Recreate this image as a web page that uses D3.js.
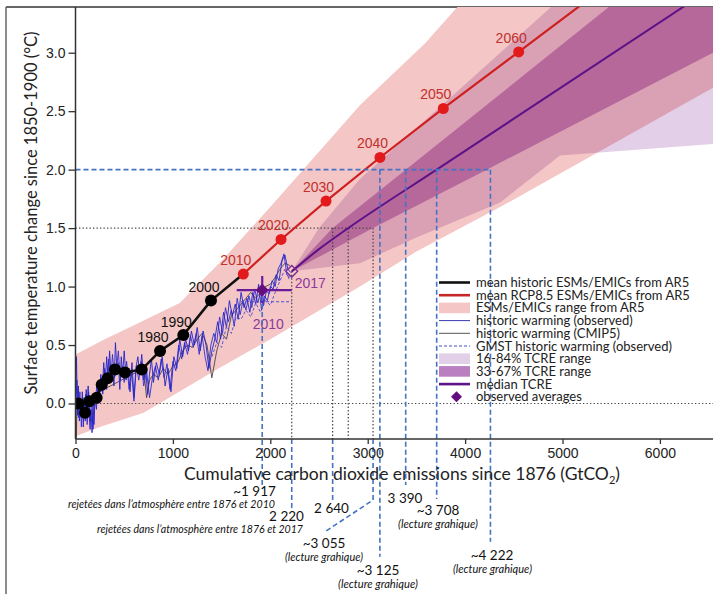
<!DOCTYPE html>
<html><head><meta charset="utf-8">
<script src="https://cdnjs.cloudflare.com/ajax/libs/d3/7.8.5/d3.min.js"></script>
<style>
html,body{margin:0;padding:0;background:#fff;}
svg{display:block;}
</style></head>
<body>
<svg id="chart" width="713" height="594"></svg>
<script>
// ---------------- DATA ----------------
const xTicks = [0,1000,2000,3000,4000,5000,6000];
const yTicks = [0.0,0.5,1.0,1.5,2.0,2.5,3.0];

// mean historic ESMs/EMICs (decade points)
const histYears = [1890,1900,1910,1920,1930,1940,1950,1960,1970,1980,1990,2000,2010];
const histX = [30,98,142,217,269,330,405,508,680,868,1107,1391,1723];
const histY = [0.0,-0.08,0.02,0.05,0.16,0.215,0.29,0.265,0.29,0.45,0.585,0.88,1.107];
const histLabelled = [1980,1990,2000];

// mean RCP8.5
const rcpYears = [2010,2020,2030,2040,2050,2060,2070];
const rcpX = [1723,2110,2572,3126,3776,4550,5400];
const rcpY = [1.107,1.403,1.731,2.104,2.523,3.007,3.54];

// ESMs/EMICs range from AR5
const ar5UpperX = [0,300,600,1070,1500,2000,2920,3590,3930,4600,6545];
const ar5UpperY = [0.42,0.55,0.67,0.86,1.22,1.68,2.55,3.08,3.40,3.95,5.0];
const ar5LowerX = [0,250,700,1450,2000,2920,3500,4359,6545];
const ar5LowerY = [-0.28,-0.2,-0.08,0.29,0.55,1.0,1.3,1.68,2.70];

// TCRE ranges
const tcre1684UpperX = [2220,2500,2920,4882,6545];
const tcre1684UpperY = [1.13,1.5,1.92,3.39,4.6];
const tcre1684LowerX = [2220,2920,3500,4359,4974,6545];
const tcre1684LowerY = [1.13,1.2,1.42,1.72,2.12,2.22];
const tcre3367UpperX = [2220,2640,3390,5475,6545];
const tcre3367UpperY = [1.13,1.5,2.0,3.39,4.1];
const tcre3367LowerX = [2220,3055,4222,6545];
const tcre3367LowerY = [1.13,1.5,2.0,3.0];
const medianX = [2220,2500,2800,3708,6545];
const medianY = [1.13,1.32,1.5,2.0,3.56];

// historic warming (observed)
const obsX = [0,10,20,30,40,50,60,70,80,90,100,110,120,130,140,150,160,170,180,190,200,215,230,245,260,275,290,305,320,335,350,365,380,395,410,425,440,455,470,485,500,520,540,560,580,600,620,640,660,680,700,720,740,760,780,800,830,860,890,920,950,980,1010,1040,1070,1100,1130,1160,1190,1220,1250,1280,1310,1340,1370,1400,1430,1460,1490,1520,1550,1580,1610,1640,1670,1700,1730,1760,1790,1820,1850,1880,1910,1940,1970,2000,2030,2060,2090,2120,2150,2180,2210];
const obsY = [0.05,0.40,-0.10,0.15,-0.15,0.0,-0.12,0.10,-0.20,0.05,-0.15,0.12,-0.05,0.15,-0.10,-0.22,-0.05,-0.25,0.0,-0.18,0.05,-0.05,0.18,0.05,0.25,0.10,0.35,0.15,0.40,0.20,0.45,0.25,0.30,0.15,0.52,0.30,0.35,0.12,0.40,0.25,0.45,0.20,0.30,0.10,0.35,0.05,0.30,0.40,0.25,0.42,0.20,0.30,0.08,0.25,0.38,0.18,0.35,0.25,0.40,0.15,0.30,0.10,0.40,0.30,0.55,0.40,0.55,0.45,0.62,0.50,0.65,0.45,0.62,0.50,0.30,0.45,0.55,0.70,0.55,0.78,0.65,0.88,0.75,0.85,0.72,0.95,0.82,0.90,0.78,0.95,0.85,1.02,0.80,0.92,0.88,1.00,0.98,1.10,1.05,1.22,1.27,1.15,1.12];
const obs2X = [0,15,30,45,60,75,90,105,120,135,150,165,180,200,220,240,260,280,300,320,340,360,380,400,420,440,460,480,500,525,550,575,600,625,650,675,700,730,760,790,820,850,880,910,940,970,1000,1030,1060,1090,1120,1150,1180,1210,1240,1270,1300,1330,1360,1390,1420,1450,1480,1510,1540,1570,1600,1630,1660,1690,1720,1750,1780,1810,1840,1870,1900,1930,1960,1990,2020,2050,2080,2110,2140,2170,2200];
const obs2Y = [-0.05,0.20,-0.12,0.10,-0.20,0.05,-0.10,0.08,-0.18,0.10,-0.15,0.05,-0.22,0.02,0.15,0.0,0.22,0.08,0.30,0.12,0.38,0.18,0.42,0.22,0.28,0.45,0.20,0.32,0.18,0.36,0.12,0.28,0.02,0.32,0.20,0.36,0.15,0.28,0.05,0.22,0.32,0.20,0.38,0.22,0.34,0.12,0.36,0.28,0.50,0.38,0.52,0.42,0.58,0.48,0.60,0.42,0.58,0.40,0.28,0.50,0.60,0.52,0.74,0.60,0.82,0.70,0.80,0.66,0.90,0.76,0.88,0.80,0.92,0.82,0.98,0.86,0.95,0.84,0.96,0.94,1.05,1.00,1.15,1.20,1.28,1.10,1.08];
// historic warming (CMIP5)
const cmipX = [0,8,16,700,730,760,800,850,900,950,1000,1050,1100,1150,1200,1250,1300,1350,1400,1450,1500,1550,1600,1650,1700,1750,1800,1850,1900,1950,2000,2050,2100,2150,2200];
const cmipY = [0.0,-0.3,0.0,0.30,0.05,0.20,0.25,0.22,0.30,0.25,0.32,0.35,0.45,0.50,0.48,0.55,0.60,0.50,0.22,0.45,0.60,0.55,0.75,0.80,0.85,0.90,0.95,0.90,0.95,1.00,1.02,1.08,1.15,1.20,1.18];
// GMST historic warming (observed)
const gmstX = [1400,1450,1500,1550,1600,1650,1700,1750,1800,1850,1900,1950,2000,2050,2100,2150,2200];
const gmstY = [0.40,0.52,0.48,0.66,0.60,0.74,0.72,0.80,0.74,0.86,0.78,0.88,0.84,0.95,1.05,1.15,1.05];
const gmstAvgX = [1700,2220];
const gmstAvgY = 0.87;

// observed averages
const obsAvgLabels = ["2010","2017"];
const obsAvgX = [1917,2220];
const obsAvgY = [0.97,1.13];
const obsErrX = [1655,2220];
const obsErrY = [0.86,1.09];

// reference lines and readings
const level15 = 1.5, level20 = 2.0;
const budget15X = [2640,2800,3055];
const budget20X = [3125,3390,3708,4260];

const legendItems = [
  {label:"mean historic ESMs/EMICs from AR5", type:"line", color:"#111", w:2.6},
  {label:"mean RCP8.5 ESMs/EMICs from AR5", type:"line", color:"#c62828", w:2.6},
  {label:"ESMs/EMICs range from AR5", type:"rect", color:"#f4c6c6"},
  {label:"historic warming (observed)", type:"line", color:"#3b3bb3", w:1},
  {label:"historic warming (CMIP5)", type:"line", color:"#555", w:1},
  {label:"GMST historic warming (observed)", type:"dash", color:"#4b4bc0", w:1},
  {label:"16-84% TCRE range", type:"rect", color:"#e2cfe8"},
  {label:"33-67% TCRE range", type:"rect", color:"#b97fc0"},
  {label:"median TCRE", type:"line", color:"#5e1288", w:2.6},
  {label:"observed averages", type:"diamond", color:"#650c7e"}
];

const annotations = [
  {t:"~1 917", x:254.5, y:496, it:false},
  {t:"rejetées dans l’atmosphère entre 1876 et 2010", x:171.5, y:508, it:true, len:207},
  {t:"2 220", x:286.5, y:521, it:false},
  {t:"2 640", x:331.5, y:513, it:false},
  {t:"rejetées dans l’atmosphère entre 1876 et 2017", x:200, y:533, it:true, len:206},
  {t:"~3 055", x:324, y:548, it:false},
  {t:"(lecture grahique)", x:324, y:561, it:true, len:78},
  {t:"3 390", x:405, y:503, it:false},
  {t:"~3 708", x:438, y:515, it:false},
  {t:"(lecture grahique)", x:438, y:528, it:true, len:80},
  {t:"~3 125", x:378, y:575, it:false},
  {t:"(lecture grahique)", x:378, y:588, it:true, len:80},
  {t:"~4 222", x:492, y:560, it:false},
  {t:"(lecture grahique)", x:492.5, y:573, it:true, len:79}
];

// ---------------- DRAW ----------------
const svg = d3.select("#chart");
const W = 713, H = 594;
const L = 75.5, T = 7, R = 713, B = 439;
const x = d3.scaleLinear().domain([0,6545]).range([L,R]);
const y = d3.scaleLinear().domain([-0.3036,3.391]).range([B,T]);
const yMax = y.domain()[1];

// frame
svg.append("line").attr("x1",6).attr("x2",W).attr("y1",7).attr("y2",7).attr("stroke","#333").attr("stroke-width",1.5);
svg.append("line").attr("x1",6).attr("x2",6).attr("y1",7).attr("y2",H).attr("stroke","#666").attr("stroke-width",1.5);

svg.append("clipPath").attr("id","plotclip").append("rect")
  .attr("x",L).attr("y",T).attr("width",R-L).attr("height",B-T);

const plot = svg.append("g").attr("clip-path","url(#plotclip)");
const bands = plot.append("g").style("isolation","isolate");

function bandPath(ux,uy,lx,ly){
  const up = ux.map((v,i)=>[x(v),y(uy[i])]);
  const lo = lx.map((v,i)=>[x(v),y(ly[i])]).reverse();
  return d3.line()(up.concat(lo)) + "Z";
}
bands.append("path").attr("d",bandPath(ar5UpperX,ar5UpperY,ar5LowerX,ar5LowerY)).attr("fill","#f4c6c6");
bands.append("path").attr("d",bandPath(tcre1684UpperX,tcre1684UpperY,tcre1684LowerX,tcre1684LowerY))
  .attr("fill","#e4cfe9").style("mix-blend-mode","multiply");
bands.append("path").attr("d",bandPath(tcre3367UpperX,tcre3367UpperY,tcre3367LowerX,tcre3367LowerY))
  .attr("fill","#d6a5d9").style("mix-blend-mode","multiply");

// dotted reference lines
const dotted = {stroke:"#444","stroke-width":1.2,"stroke-dasharray":"1.3,2.2"};
function sty(sel,o){Object.entries(o).forEach(([k,v])=>sel.attr(k,v));return sel;}
sty(plot.append("line").attr("x1",x(0)).attr("x2",R).attr("y1",y(0)).attr("y2",y(0)),dotted);
sty(plot.append("line").attr("x1",x(0)).attr("x2",x(budget15X[2])).attr("y1",y(level15)).attr("y2",y(level15)),dotted);
budget15X.forEach(v=>sty(plot.append("line").attr("x1",x(v)).attr("x2",x(v)).attr("y1",y(level15)).attr("y2",B),dotted));
sty(plot.append("line").attr("x1",x(obsAvgX[1])).attr("x2",x(obsAvgX[1])).attr("y1",y(obsAvgY[1])).attr("y2",B),dotted);

// series lines
const line = d3.line().x(d=>x(d[0])).y(d=>y(d[1]));
const zip = (a,b)=>a.map((v,i)=>[v,b[i]]);
plot.append("path").attr("d",line(zip(cmipX,cmipY))).attr("fill","none").attr("stroke","#333").attr("stroke-width",0.8);
plot.append("path").attr("d",line(zip(obs2X,obs2Y))).attr("fill","none").attr("stroke","#2f2fd0").attr("stroke-width",0.9);
plot.append("path").attr("d",line(zip(obsX,obsY))).attr("fill","none").attr("stroke","#2424c8").attr("stroke-width",0.9);
plot.append("path").attr("d",line(zip(gmstX,gmstY))).attr("fill","none").attr("stroke","#4b4bd0").attr("stroke-width",0.9).attr("stroke-dasharray","3,2");
plot.append("line").attr("x1",x(gmstAvgX[0])).attr("x2",x(gmstAvgX[1])).attr("y1",y(gmstAvgY)).attr("y2",y(gmstAvgY))
  .attr("stroke","#4b4bd0").attr("stroke-width",1).attr("stroke-dasharray","3,2");

// median TCRE
plot.append("path").attr("d",d3.line().curve(d3.curveMonotoneX).x(d=>x(d[0])).y(d=>y(d[1]))(zip(medianX,medianY)))
  .attr("fill","none").attr("stroke","#5e1288").attr("stroke-width",2);

// black historic line + points
plot.append("path").attr("d",line(zip(histX,histY))).attr("fill","none").attr("stroke","#111").attr("stroke-width",2.6);
plot.selectAll(".hp").data(zip(histX,histY).slice(0,-1)).enter().append("circle")
  .attr("cx",d=>x(d[0])).attr("cy",d=>y(d[1])).attr("r",6).attr("fill","#000");

// red RCP line + points
plot.append("path").attr("d",line(zip(rcpX,rcpY))).attr("fill","none").attr("stroke","#cf2020").attr("stroke-width",2.2);
plot.selectAll(".rp").data(zip(rcpX,rcpY)).enter().append("circle")
  .attr("cx",d=>x(d[0])).attr("cy",d=>y(d[1])).attr("r",5.5).attr("fill","#e31a1c");

// labels
rcpYears.forEach((yr,i)=>{
  if(rcpY[i] > yMax) return;
  plot.append("text").attr("x",x(rcpX[i])-7.5).attr("y",y(rcpY[i])-9).attr("text-anchor","middle")
    .attr("font-family","Liberation Sans, Arial, sans-serif").attr("font-size",14).attr("fill","#c0302c").text(yr);
});
histYears.forEach((yr,i)=>{
  if(!histLabelled.includes(yr)) return;
  plot.append("text").attr("x",x(histX[i])-7).attr("y",y(histY[i])-8.5).attr("text-anchor","middle")
    .attr("font-family","Liberation Sans, Arial, sans-serif").attr("font-size",14).attr("fill","#111").text(yr);
});

// observed averages: error bars and diamonds
const pc = "#6a1b9a";
plot.append("line").attr("x1",x(obsErrX[0])).attr("x2",x(obsErrX[1])).attr("y1",y(obsAvgY[0])).attr("y2",y(obsAvgY[0])).attr("stroke",pc).attr("stroke-width",2.2);
plot.append("line").attr("x1",x(obsAvgX[0])).attr("x2",x(obsAvgX[0])).attr("y1",y(obsErrY[0])).attr("y2",y(obsErrY[1])).attr("stroke",pc).attr("stroke-width",2.2);
plot.append("path").attr("d",d3.symbol().type(d3.symbolSquare).size(80)()).attr("transform",`translate(${x(obsAvgX[0])},${y(obsAvgY[0])}) rotate(45)`).attr("fill","#650c7e");
plot.append("path").attr("d",d3.symbol().type(d3.symbolSquare).size(70)()).attr("transform",`translate(${x(obsAvgX[1])},${y(obsAvgY[1])}) rotate(45)`).attr("fill","none").attr("stroke","#7a2a96").attr("stroke-width",1.3);
plot.append("text").attr("x",x(obsAvgX[0])+6).attr("y",y(obsAvgY[0])+39).attr("text-anchor","middle")
  .attr("font-family","Liberation Sans, Arial, sans-serif").attr("font-size",14).attr("fill","#8b3a9c").text(obsAvgLabels[0]);
plot.append("text").attr("x",x(obsAvgX[1])+3).attr("y",y(obsAvgY[1])+17).attr("text-anchor","start")
  .attr("font-family","Liberation Sans, Arial, sans-serif").attr("font-size",14).attr("fill","#8b3a9c").text(obsAvgLabels[1]);

// blue dashed reading lines
const blue = {stroke:"#4472c4","stroke-width":1.6,"stroke-dasharray":"5,3",fill:"none"};
const ov = svg.append("g");
sty(ov.append("line").attr("x1",x(0)).attr("x2",x(budget20X[3])).attr("y1",y(level20)).attr("y2",y(level20)),blue);
const ends20 = [556.7,485,499,541.7];
budget20X.forEach((v,i)=>sty(ov.append("line").attr("x1",x(v)).attr("x2",x(v)).attr("y1",y(level20)).attr("y2",ends20[i]),blue));
sty(ov.append("line").attr("x1",x(obsAvgX[0])).attr("x2",x(obsAvgX[0])).attr("y1",y(obsAvgY[0])+6).attr("y2",485),blue);
sty(ov.append("line").attr("x1",x(obsAvgX[1])).attr("x2",x(obsAvgX[1])).attr("y1",B).attr("y2",511.7),blue);
sty(ov.append("line").attr("x1",x(budget15X[0])).attr("x2",x(budget15X[0])).attr("y1",B).attr("y2",501.7),blue);
sty(ov.append("path").attr("d",`M${x(budget15X[2])},${B}L${x(budget15X[2])},500L325,531.7`),blue);

// axes
const font = "Liberation Sans, Arial, sans-serif";
const yAxis = svg.append("g").attr("transform",`translate(${L},0)`)
  .call(d3.axisLeft(y).tickValues(yTicks).tickFormat(d3.format(".1f")).tickSize(7).tickPadding(3));
const xAxis = svg.append("g").attr("transform",`translate(0,${B})`)
  .call(d3.axisBottom(x).tickValues(xTicks).tickFormat(d3.format("d")).tickSize(5).tickPadding(4));
[yAxis,xAxis].forEach(a=>{
  a.select(".domain").attr("stroke","#333").attr("stroke-width",1.5);
  a.selectAll(".tick line").attr("stroke","#333").attr("stroke-width",1.3);
  a.selectAll(".tick text").attr("font-family",font).attr("font-size",14).attr("fill","#222");
});
yAxis.select(".domain").attr("d",`M0,${T}V${B}`);
xAxis.select(".domain").attr("d",`M${L},0H${R}`);

// axis titles
svg.append("text").attr("transform","translate(37,213) rotate(-90)").attr("text-anchor","middle")
  .attr("font-family","Lato, sans-serif").attr("font-size",16.5).attr("fill","#222")
  .text("Surface temperature change since 1850-1900 (°C)");
const xt = svg.append("text").attr("x",402).attr("y",480).attr("text-anchor","middle")
  .attr("font-family","Lato, sans-serif").attr("font-size",17.5).attr("fill","#222");
xt.append("tspan").text("Cumulative carbon dioxide emissions since 1876 (GtCO");
xt.append("tspan").attr("font-size",11).attr("dy",4).text("2");
xt.append("tspan").attr("dy",-4).text(")");

// legend
const lg = svg.append("g");
const lx0 = 439, lx1 = 470, ltx = 476, ly0 = 282.5, ldy = 12.7;
legendItems.forEach((it,i)=>{
  const cy = ly0 + i*ldy;
  if(it.type==="line") lg.append("line").attr("x1",lx0).attr("x2",lx1).attr("y1",cy).attr("y2",cy).attr("stroke",it.color).attr("stroke-width",it.w);
  if(it.type==="dash") lg.append("line").attr("x1",lx0).attr("x2",lx1).attr("y1",cy).attr("y2",cy).attr("stroke",it.color).attr("stroke-width",it.w).attr("stroke-dasharray","3,2");
  if(it.type==="rect") lg.append("rect").attr("x",lx0).attr("y",cy-5.3).attr("width",lx1-lx0).attr("height",10.6).attr("fill",it.color);
  if(it.type==="diamond") lg.append("path").attr("d",d3.symbol().type(d3.symbolSquare).size(60)()).attr("transform",`translate(${(lx0+lx1)/2+2},${cy}) rotate(45)`).attr("fill",it.color);
  lg.append("text").attr("x",ltx).attr("y",cy+4.5).attr("font-family","Lato, sans-serif").attr("font-size",13).attr("fill","#222").text(it.label);
});

// annotations below axis
annotations.forEach(a=>{
  const t = svg.append("text").attr("x",a.x).attr("y",a.y).attr("text-anchor","middle")
    .attr("font-family","Lato, sans-serif").attr("fill","#111")
    .attr("font-size",a.it?10.5:13.5).attr("font-style",a.it?"italic":"normal").text(a.t);
  if(a.len) t.attr("textLength",a.len).attr("lengthAdjust","spacingAndGlyphs");
});
</script>
</body></html>
